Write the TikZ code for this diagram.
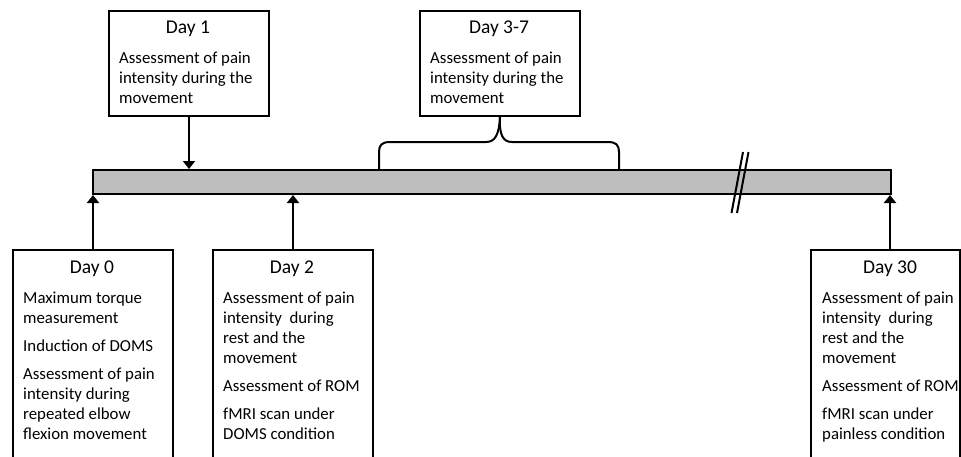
\documentclass[tikz,border=0pt]{standalone}
\usepackage{fontspec}
\setmainfont{Carlito}
\usetikzlibrary{arrows.meta}
\definecolor{bargray}{RGB}{190,190,190}
\begin{document}
\begin{tikzpicture}[x=1pt,y=-1pt,
  lw/.style={line width=2pt},
  box/.style={draw, lw, fill=white, anchor=north west, inner sep=0pt},
  ttl/.style={font=\fontsize{19.5}{22}\selectfont, inner sep=0pt, anchor=base},
  body/.style={font=\fontsize{16.8}{20}\selectfont, align=left, anchor=north west, inner sep=0pt},
  arr/.style={lw, -{Triangle[width=12pt,length=8pt]}},
]
\useasboundingbox (0,0) rectangle (961,456);
% timeline bar
\node[draw, lw, fill=bargray, minimum width=798pt, minimum height=24pt, anchor=north west, inner sep=0pt] (bar) at (92,169) {};
% break mark
\draw[lw] (743,152) -- (731.5,213);
\draw[lw] (748.5,152) -- (737,213);

% top boxes
\node[box, minimum width=160pt, minimum height=105pt] (b1) at (108,10) {};
\node[ttl] (t1) at (188,33.5) {Day 1};
\node[body] (x1) at (119,49.3) {\strut Assessment of pain\\intensity during the\\movement};

\node[box, minimum width=160pt, minimum height=105pt] (b37) at (419,10) {};
\node[ttl] (t37) at (499,33.5) {Day 3-7};
\node[body] (x37) at (430,49.3) {\strut Assessment of pain\\intensity during the\\movement};

% bottom boxes
\node[box, minimum width=160pt, minimum height=220pt] (b0) at (12,249) {};
\node[ttl] (t0) at (92,273.5) {Day 0};
\node[body] (x0) at (23,289.3) {\strut Maximum torque\\measurement\\[8pt]Induction of DOMS\\[8pt]Assessment of pain\\intensity during\\repeated elbow\\flexion movement};

\node[box, minimum width=160pt, minimum height=220pt] (b2) at (212,249) {};
\node[ttl] (t2) at (292,273.5) {Day 2};
\node[body] (x2) at (223,289.3) {\strut Assessment of pain\\intensity\ \ during\\rest and the\\movement\\[8pt]Assessment of ROM\\[8pt]fMRI scan under\\DOMS condition};

\node[box, minimum width=149pt, minimum height=220pt] (b30) at (810,249) {};
\node[ttl] (t30) at (890,273.5) {Day 30};
\node[body] (x30) at (822,289.3) {\strut Assessment of pain\\intensity\ \ during\\rest and the\\movement\\[8pt]Assessment of ROM\\[8pt]fMRI scan under\\painless condition};

% arrows
\draw[arr] (b1.south) -- (b1.south |- bar.north);
\draw[arr] (b0.north) -- (b0.north |- bar.south);
\draw[arr] (b2.north) -- (b2.north |- bar.south);
\coordinate (c30) at ([xshift=80pt]b30.north west);
\draw[arr] (c30) -- (c30 |- bar.south);

% brace
\coordinate (bl) at (379,169);
\coordinate (br) at (619,169);
\draw[lw] (bl) -- (379,152) .. controls (379,145) and (382,142) .. (390,142) -- (486,142) .. controls (495,142) and (499,135) .. (b37.south);
\draw[lw] (br) -- (619,152) .. controls (619,145) and (616,142) .. (608,142) -- (512,142) .. controls (503,142) and (499,135) .. (b37.south);
\end{tikzpicture}
\end{document}
